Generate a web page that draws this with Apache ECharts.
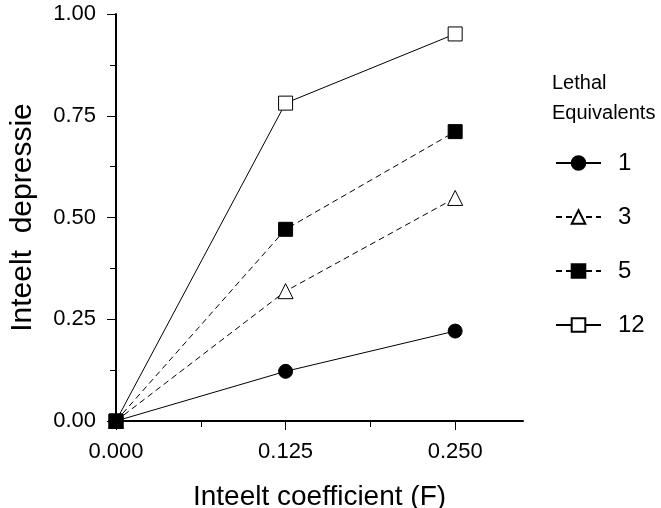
<!DOCTYPE html>
<html>
<head>
<meta charset="utf-8">
<script src="https://cdn.jsdelivr.net/npm/echarts@6/dist/echarts.min.js"></script>
<style>html,body{margin:0;padding:0;background:#fff}#c{width:661px;height:508px}</style>
</head>
<body>
<div id="c"></div>
<script>
const xValues = [0, 0.125, 0.25];
const le1 = [0, 0.122, 0.221];
const le3 = [0, 0.319, 0.548];
const le5 = [0, 0.471, 0.711];
const le12 = [0, 0.781, 0.951];
const xTicks = [0, 0.125, 0.25];
const yTicks = [0, 0.25, 0.5, 0.75, 1];
const legendNames = ['1', '3', '5', '12'];

const FONT = 'Liberation Sans, Arial, sans-serif';
const pairs = arr => arr.map((v, i) => [xValues[i], v]);

function mk(name, data, symbol, filled, dashed, z) {
  return {
    name: name, type: 'line', data: pairs(data),
    symbol: symbol, symbolSize: symbol === 'triangle' ? 15 : 14,
    z: z,
    lineStyle: { color: '#000', width: 1, type: dashed ? [6, 4] : 'solid' },
    itemStyle: filled ? { color: '#000', borderColor: '#000', borderWidth: 1 }
                      : { color: '#fff', borderColor: '#000', borderWidth: 1 },
    emphasis: { disabled: true },
    animation: false
  };
}

const chart = echarts.init(document.getElementById('c'), null, { renderer: 'canvas' });
chart.setOption({
  backgroundColor: '#fff',
  animation: false,
  textStyle: { fontFamily: FONT },
  title: {
    text: 'Lethal\nEquivalents', left: 552, top: 68, padding: 0,
    textStyle: { fontSize: 20, fontWeight: 'normal', color: '#000', lineHeight: 30, fontFamily: FONT }
  },
  legend: {
    data: legendNames, orient: 'vertical', left: 555, top: 151, padding: 0,
    itemWidth: 45, itemHeight: 17, itemGap: 30,
    textStyle: { fontSize: 24, color: '#000', lineHeight: 24, fontFamily: FONT, padding: [0, 0, 0, 12] },
    selectedMode: false
  },
  grid: { left: 116, top: 14, right: 138, bottom: 87, containLabel: false, outerBoundsMode: 'none' },
  xAxis: {
    type: 'value', min: 0, max: 0.3, interval: 0.125,
    name: 'Inteelt coefficient (F)', nameLocation: 'middle', nameGap: 62, nameMoveOverlap: false,
    nameTextStyle: { fontSize: 28, color: '#000', fontFamily: FONT },
    axisLine: { show: true, onZero: false, lineStyle: { color: '#000', width: 2 } },
    axisTick: { show: true, length: 9, customValues: xTicks, lineStyle: { color: '#000', width: 1 } },
    minorTick: { show: true, splitNumber: 2, length: 6, lineStyle: { color: '#000', width: 1 } },
    axisLabel: { customValues: xTicks, fontSize: 22, color: '#000', margin: 20, formatter: v => v.toFixed(3), fontFamily: FONT },
    splitLine: { show: false }, minorSplitLine: { show: false }
  },
  yAxis: {
    type: 'value', min: 0, max: 1, interval: 0.25,
    name: 'Inteelt  depressie', nameLocation: 'middle', nameGap: 78, nameMoveOverlap: false,
    nameTextStyle: { fontSize: 30, color: '#000', fontFamily: FONT },
    axisLine: { show: true, onZero: false, lineStyle: { color: '#000', width: 2 } },
    axisTick: { show: true, length: 9, lineStyle: { color: '#000', width: 1 } },
    minorTick: { show: true, splitNumber: 2, length: 6, lineStyle: { color: '#000', width: 1 } },
    axisLabel: { customValues: yTicks, fontSize: 22, color: '#000', margin: 20, formatter: v => v.toFixed(2), fontFamily: FONT },
    splitLine: { show: false }, minorSplitLine: { show: false }
  },
  series: [
    mk('12', le12, 'rect', false, false, 2),
    mk('1', le1, 'circle', true, false, 3),
    mk('3', le3, 'triangle', false, true, 4),
    mk('5', le5, 'rect', true, true, 5)
  ]
});
</script>
</body>
</html>
